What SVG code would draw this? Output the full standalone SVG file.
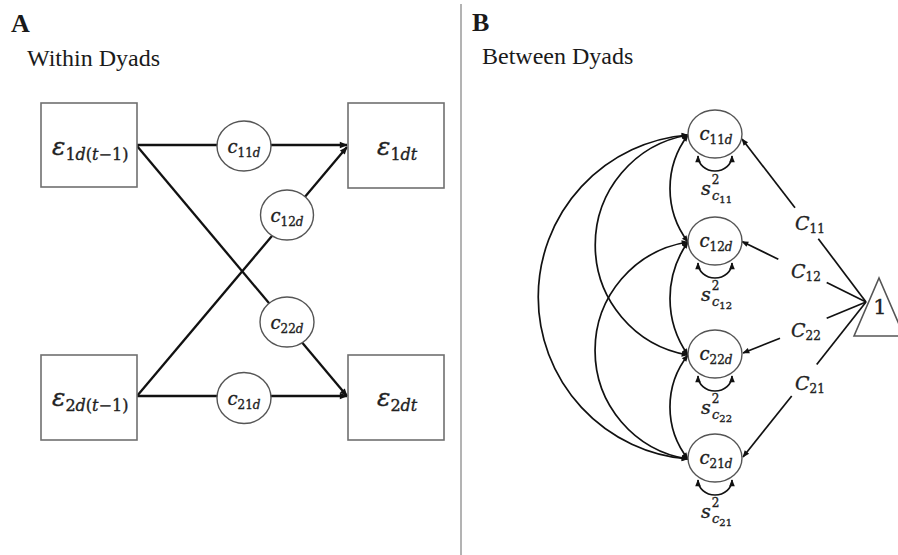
<svg xmlns="http://www.w3.org/2000/svg" width="898" height="555" viewBox="0 0 898 555">
  <style>
    .title { font-family: "Liberation Serif", "Times New Roman", serif; fill: #1a1a1a; }
    .panel { font-weight: bold; font-size: 26px; }
    .head { font-size: 24px; }
    .m { font-family: "DejaVu Serif", "Liberation Serif", serif; fill: #222; stroke: #222; stroke-width: 0.35; }
    .v { font-style: italic; }
    .box { fill: #fff; stroke: #707070; stroke-width: 1.6; }
    .node { fill: #fff; stroke: #555; stroke-width: 1.4; }
    .tri { fill: #fff; stroke: #555; stroke-width: 1.6; }
    .pa { fill: none; stroke: #111; stroke-width: 2.3; marker-end: url(#ah); }
    .pb { fill: none; stroke: #111; stroke-width: 1.7; }
    .one { marker-end: url(#ahs); }
    .two { marker-start: url(#ahd); marker-end: url(#ahd); }
  </style>
  <defs>
    <marker id="ah" viewBox="0 0 10 10" refX="9" refY="5" markerWidth="9" markerHeight="8" markerUnits="userSpaceOnUse" orient="auto">
      <path d="M0,1 L10,5 L0,9 z" fill="#111"/>
    </marker>
    <marker id="ahs" viewBox="0 0 10 10" refX="9" refY="5" markerWidth="8" markerHeight="7" markerUnits="userSpaceOnUse" orient="auto">
      <path d="M0,1 L10,5 L0,9 z" fill="#111"/>
    </marker>
    <marker id="ahd" viewBox="0 0 10 10" refX="9" refY="5" markerWidth="8" markerHeight="7" markerUnits="userSpaceOnUse" orient="auto-start-reverse">
      <path d="M0,1 L10,5 L0,9 z" fill="#111"/>
    </marker>
  </defs>

  <rect width="898" height="555" fill="#fff"/>

  <!-- panel headings and divider -->
  <text class="title panel" x="11" y="32">A</text>
  <text class="title head" x="27" y="66">Within Dyads</text>
  <text class="title panel" x="472" y="31">B</text>
  <text class="title head" x="482" y="64">Between Dyads</text>
  <line x1="461" y1="4" x2="461" y2="555" stroke="#a0a0a0" stroke-width="1.6"/>

  <!-- panel A connectors -->
  <g id="edges-a">
    <line class="pa" x1="137" y1="145" x2="347" y2="145"/>
    <line class="pa" x1="137" y1="146" x2="347" y2="396"/>
    <line class="pa" x1="137" y1="396" x2="347" y2="147"/>
    <line class="pa" x1="137" y1="396" x2="347" y2="396"/>
  </g>

  <!-- panel A nodes -->
  <g id="e1d-prev">
    <rect class="box" x="41" y="103" width="96" height="84"/>
    <text class="m" x="52" y="155" font-size="25"><tspan class="v">ε</tspan><tspan font-size="16" dy="5">1<tspan class="v">d</tspan>(<tspan class="v">t</tspan>−1)</tspan></text>
  </g>
  <g id="e1dt">
    <rect class="box" x="348" y="103" width="96" height="85"/>
    <text class="m" x="377" y="155" font-size="25"><tspan class="v">ε</tspan><tspan font-size="16" dy="5">1<tspan class="v">dt</tspan></tspan></text>
  </g>
  <g id="e2d-prev">
    <rect class="box" x="41" y="355" width="96" height="85"/>
    <text class="m" x="52" y="406" font-size="25"><tspan class="v">ε</tspan><tspan font-size="16" dy="5">2<tspan class="v">d</tspan>(<tspan class="v">t</tspan>−1)</tspan></text>
  </g>
  <g id="e2dt">
    <rect class="box" x="348" y="355" width="96" height="85"/>
    <text class="m" x="377" y="406" font-size="25"><tspan class="v">ε</tspan><tspan font-size="16" dy="5">2<tspan class="v">dt</tspan></tspan></text>
  </g>
  <g id="a-c11d">
    <ellipse class="node" cx="244" cy="146" rx="27" ry="25"/>
    <text class="m" x="244" y="153" font-size="18" text-anchor="middle"><tspan class="v">c</tspan><tspan font-size="12" dy="4">11<tspan class="v">d</tspan></tspan></text>
  </g>
  <g id="a-c12d">
    <ellipse class="node" cx="287" cy="215" rx="26.5" ry="25"/>
    <text class="m" x="287" y="222" font-size="18" text-anchor="middle"><tspan class="v">c</tspan><tspan font-size="12" dy="4">12<tspan class="v">d</tspan></tspan></text>
  </g>
  <g id="a-c22d">
    <ellipse class="node" cx="287" cy="322" rx="27" ry="25"/>
    <text class="m" x="287" y="329" font-size="18" text-anchor="middle"><tspan class="v">c</tspan><tspan font-size="12" dy="4">22<tspan class="v">d</tspan></tspan></text>
  </g>
  <g id="a-c21d">
    <ellipse class="node" cx="244" cy="398" rx="27" ry="25.5"/>
    <text class="m" x="244" y="405" font-size="18" text-anchor="middle"><tspan class="v">c</tspan><tspan font-size="12" dy="4">21<tspan class="v">d</tspan></tspan></text>
  </g>

  <!-- panel B connectors -->
  <g id="edges-b">
    <!-- covariances between random coefficients -->
    <path class="pb two" d="M688,135 A88.5,88.5 0 0 0 688,242"/>
    <path class="pb two" d="M688,242 A97.7,97.7 0 0 0 688,355"/>
    <path class="pb two" d="M688,355 A84,84 0 0 0 688,459"/>
    <path class="pb two" d="M688,135 A111.6,111.6 0 0 0 688,355"/>
    <path class="pb two" d="M688,242 A109.8,109.8 0 0 0 688,459"/>
    <path class="pb two" d="M688,135 A162.5,162.5 0 0 0 688,459"/>
    <!-- variances -->
    <path class="pb two" d="M698,156 A17,15 0 0 0 732,156"/>
    <path class="pb two" d="M698,263 A17,15 0 0 0 732,263"/>
    <path class="pb two" d="M698,376 A17,15 0 0 0 732,376"/>
    <path class="pb two" d="M698,480 A17,15 0 0 0 732,480"/>
    <!-- means from the constant -->
    <line class="pb" x1="866" y1="302" x2="818.3" y2="238.7"/>
    <line class="pb one" x1="795" y1="207.8" x2="742" y2="139"/>
    <line class="pb" x1="866" y1="302" x2="826.7" y2="282.5"/>
    <line class="pb one" x1="778.3" y1="259.3" x2="742" y2="241.5"/>
    <line class="pb" x1="866" y1="302" x2="826.7" y2="318.3"/>
    <line class="pb one" x1="780" y1="338.3" x2="743" y2="353"/>
    <line class="pb" x1="866" y1="302" x2="816.7" y2="364.5"/>
    <line class="pb one" x1="791.7" y1="396" x2="743" y2="457"/>
  </g>

  <!-- panel B nodes -->
  <g id="b-c11d">
    <ellipse class="node" cx="715" cy="134" rx="27" ry="24"/>
    <text class="m" x="716" y="140" font-size="18" text-anchor="middle"><tspan class="v">c</tspan><tspan font-size="12" dy="4">11<tspan class="v">d</tspan></tspan></text>
    <text class="m" x="701" y="195" font-size="19"><tspan class="v">s</tspan><tspan font-size="12" dx="1" dy="-11">2</tspan><tspan class="v" font-size="13" x="712" dy="16">c</tspan><tspan font-size="10" dy="3">11</tspan></text>
  </g>
  <g id="b-c12d">
    <ellipse class="node" cx="715" cy="241" rx="27" ry="24"/>
    <text class="m" x="716" y="247" font-size="18" text-anchor="middle"><tspan class="v">c</tspan><tspan font-size="12" dy="4">12<tspan class="v">d</tspan></tspan></text>
    <text class="m" x="701" y="301" font-size="19"><tspan class="v">s</tspan><tspan font-size="12" dx="1" dy="-11">2</tspan><tspan class="v" font-size="13" x="712" dy="16">c</tspan><tspan font-size="10" dy="3">12</tspan></text>
  </g>
  <g id="b-c22d">
    <ellipse class="node" cx="715" cy="354" rx="27" ry="24"/>
    <text class="m" x="716" y="360" font-size="18" text-anchor="middle"><tspan class="v">c</tspan><tspan font-size="12" dy="4">22<tspan class="v">d</tspan></tspan></text>
    <text class="m" x="701" y="414" font-size="19"><tspan class="v">s</tspan><tspan font-size="12" dx="1" dy="-11">2</tspan><tspan class="v" font-size="13" x="712" dy="16">c</tspan><tspan font-size="10" dy="3">22</tspan></text>
  </g>
  <g id="b-c21d">
    <ellipse class="node" cx="715" cy="458" rx="27" ry="24"/>
    <text class="m" x="716" y="464" font-size="18" text-anchor="middle"><tspan class="v">c</tspan><tspan font-size="12" dy="4">21<tspan class="v">d</tspan></tspan></text>
    <text class="m" x="701" y="518" font-size="19"><tspan class="v">s</tspan><tspan font-size="12" dx="1" dy="-11">2</tspan><tspan class="v" font-size="13" x="712" dy="16">c</tspan><tspan font-size="10" dy="3">21</tspan></text>
  </g>
  <g id="constant">
    <path class="tri" d="M854,336 L879,278 L904,336 Z"/>
    <text class="m" x="880" y="314" font-size="21" text-anchor="middle">1</text>
  </g>

  <!-- path labels -->
  <g id="mean-labels">
    <text class="m" x="795" y="230" font-size="19"><tspan class="v">C</tspan><tspan font-size="12" dy="3">11</tspan></text>
    <text class="m" x="791" y="278" font-size="19"><tspan class="v">C</tspan><tspan font-size="12" dy="3">12</tspan></text>
    <text class="m" x="791" y="337" font-size="19"><tspan class="v">C</tspan><tspan font-size="12" dy="3">22</tspan></text>
    <text class="m" x="795" y="390" font-size="19"><tspan class="v">C</tspan><tspan font-size="12" dy="3">21</tspan></text>
  </g>
</svg>
